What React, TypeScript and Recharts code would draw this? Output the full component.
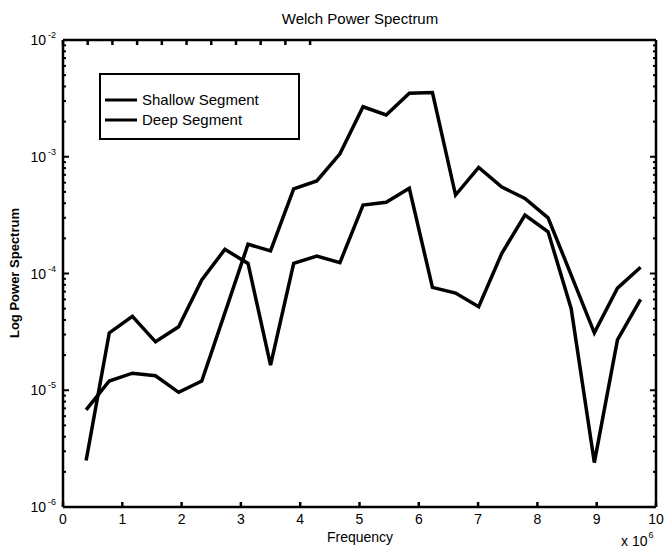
import { LineChart, Line, XAxis, YAxis, Legend, Customized } from "recharts";

const font = "'Liberation Sans', Arial, Helvetica, sans-serif";

// frequency in units of 1e6
const frequency = [
  0.39, 0.78, 1.17, 1.56, 1.95, 2.34, 2.73, 3.12, 3.5, 3.89, 4.28, 4.67, 5.06,
  5.45, 5.84, 6.23, 6.62, 7.01, 7.4, 7.79, 8.18, 8.57, 8.96, 9.35, 9.74,
];
const shallow = [
  6.8e-6, 1.2e-5, 1.4e-5, 1.33e-5, 9.6e-6, 1.2e-5, 4.6e-5, 1.78e-4, 1.56e-4,
  5.3e-4, 6.2e-4, 1.06e-3, 2.68e-3, 2.28e-3, 3.5e-3, 3.55e-3, 4.7e-4, 8.1e-4,
  5.5e-4, 4.4e-4, 3.0e-4, 9.7e-5, 3.1e-5, 7.5e-5, 1.13e-4,
];
const deep = [
  2.5e-6, 3.1e-5, 4.3e-5, 2.6e-5, 3.5e-5, 8.8e-5, 1.61e-4, 1.22e-4, 1.64e-5,
  1.22e-4, 1.41e-4, 1.24e-4, 3.86e-4, 4.07e-4, 5.37e-4, 7.6e-5, 6.8e-5, 5.2e-5,
  1.49e-4, 3.17e-4, 2.28e-4, 5.0e-5, 2.4e-6, 2.7e-5, 6.0e-5,
];
const seriesNames = ["Shallow Segment", "Deep Segment"];

const xTicks = [0, 1, 2, 3, 4, 5, 6, 7, 8, 9, 10];
const yMajorTicks = [1e-6, 1e-5, 1e-4, 1e-3, 1e-2];
const decades = [1e-6, 1e-5, 1e-4, 1e-3];
const minorSteps = [2, 3, 4, 5, 6, 7, 8, 9];
const yAllTicks = [...yMajorTicks, ...decades.flatMap((d) => minorSteps.map((m) => m * d))];

const data = frequency.map((f, i) => ({ f, shallow: shallow[i], deep: deep[i] }));

const X_DOMAIN: [number, number] = [0, 10];
const Y_DOMAIN: [number, number] = [1e-6, 1e-2];

const isMajor = (v: number) => Math.abs(Math.log10(v) - Math.round(Math.log10(v))) < 1e-6;

function LeftTick(props: any) {
  const { x, y, payload } = props;
  const major = isMajor(payload.value);
  const exp = Math.round(Math.log10(payload.value));
  return (
    <g>
      <line x1={x} y1={y} x2={x + (major ? 6 : 3)} y2={y} stroke="#000" strokeWidth={2} />
      {major && (
        <text x={x - 7} y={y + 5} textAnchor="end" fontSize={14} fill="#000" fontFamily={font}>
          10
          <tspan dx={2} dy={-7} fontSize={9}>
            {exp}
          </tspan>
        </text>
      )}
    </g>
  );
}

function RightTick(props: any) {
  const { x, y, payload } = props;
  const major = isMajor(payload.value);
  return <line x1={x} y1={y} x2={x - (major ? 6 : 3)} y2={y} stroke="#000" strokeWidth={2} />;
}

function BottomTick(props: any) {
  const { x, y, payload } = props;
  return (
    <g>
      <line x1={x} y1={y} x2={x} y2={y - 5} stroke="#000" strokeWidth={2.5} />
      <text x={x} y={y + 17} textAnchor="middle" fontSize={14} fill="#000" fontFamily={font}>
        {payload.value}
      </text>
    </g>
  );
}

function TopTick(props: any) {
  const { x, y } = props;
  return <line x1={x} y1={y} x2={x} y2={y + 5} stroke="#000" strokeWidth={2.5} />;
}

function LegendBox({ payload }: any) {
  const items = [...(payload || [])].sort(
    (a: any, b: any) => seriesNames.indexOf(a.value) - seriesNames.indexOf(b.value)
  );
  return (
    <div
      style={{
        width: 197,
        height: 63,
        border: "2px solid #000",
        background: "#fff",
        position: "relative",
        fontFamily: font,
      }}
    >
      {items.map((p: any, i: number) => (
        <div
          key={p.value}
          style={{
            position: "absolute",
            left: 4,
            top: 15 + i * 20,
            height: 20,
            display: "flex",
            alignItems: "center",
            whiteSpace: "nowrap",
          }}
        >
          <svg width={33} height={20}>
            <line x1={0} y1={10} x2={32} y2={10} stroke="#000" strokeWidth={3} />
          </svg>
          <span style={{ fontSize: 15, marginLeft: 4, lineHeight: "20px", color: "#000" }}>
            {p.value}
          </span>
        </div>
      ))}
    </div>
  );
}

function Labels() {
  return (
    <g fontFamily={font} fill="#000">
      <text x={360} y={24} textAnchor="middle" fontSize={15}>
        Welch Power Spectrum
      </text>
      <text x={360} y={542} textAnchor="middle" fontSize={14}>
        Frequency
      </text>
      <text x={621} y={546} fontSize={14}>
        x 10
        <tspan dx={1} dy={-8} fontSize={9}>
          6
        </tspan>
      </text>
      <text
        x={19}
        y={273}
        textAnchor="middle"
        fontSize={13}
        fontWeight="bold"
        transform="rotate(-90 19 273)"
      >
        Log Power Spectrum
      </text>
    </g>
  );
}

const axisStroke = { stroke: "#000", strokeWidth: 2.5 };

export default function App() {
  return (
    <div style={{ position: "absolute", left: 0, top: 0, width: 664, height: 552, background: "#fff" }}>
      <LineChart width={664} height={552} data={data} margin={{ top: 40, right: 8, bottom: 44, left: 62 }}>
        <XAxis
          xAxisId="x"
          dataKey="f"
          type="number"
          domain={X_DOMAIN}
          allowDataOverflow
          ticks={xTicks}
          interval={0}
          height={1}
          tickSize={0}
          tickMargin={0}
          tickLine={false}
          axisLine={axisStroke}
          tick={<BottomTick />}
        />
        <XAxis
          xAxisId="xt"
          orientation="top"
          type="number"
          domain={X_DOMAIN}
          allowDataOverflow
          ticks={xTicks}
          interval={0}
          height={1}
          mirror
          tickSize={0}
          tickMargin={0}
          tickLine={false}
          axisLine={axisStroke}
          tick={<TopTick />}
        />
        <YAxis
          yAxisId="y"
          scale="log"
          type="number"
          domain={Y_DOMAIN}
          allowDataOverflow
          ticks={yAllTicks}
          interval={0}
          width={1}
          tickSize={0}
          tickMargin={0}
          tickLine={false}
          axisLine={axisStroke}
          tick={<LeftTick />}
        />
        <YAxis
          yAxisId="yr"
          orientation="right"
          scale="log"
          type="number"
          domain={Y_DOMAIN}
          allowDataOverflow
          ticks={yAllTicks}
          interval={0}
          width={1}
          mirror
          tickSize={0}
          tickMargin={0}
          tickLine={false}
          axisLine={axisStroke}
          tick={<RightTick />}
        />
        <Line
          xAxisId="x"
          yAxisId="y"
          type="linear"
          dataKey="shallow"
          name="Shallow Segment"
          stroke="#000"
          strokeWidth={3.5}
          dot={false}
          isAnimationActive={false}
        />
        <Line
          xAxisId="x"
          yAxisId="y"
          type="linear"
          dataKey="deep"
          name="Deep Segment"
          stroke="#000"
          strokeWidth={3.5}
          dot={false}
          isAnimationActive={false}
        />
        <Legend
          layout="vertical"
          align="center"
          verticalAlign="middle"
          content={<LegendBox />}
          wrapperStyle={{ position: "absolute", left: 99, top: 73, width: 201, height: 67 }}
        />
        <Customized component={<Labels />} />
      </LineChart>
    </div>
  );
}
